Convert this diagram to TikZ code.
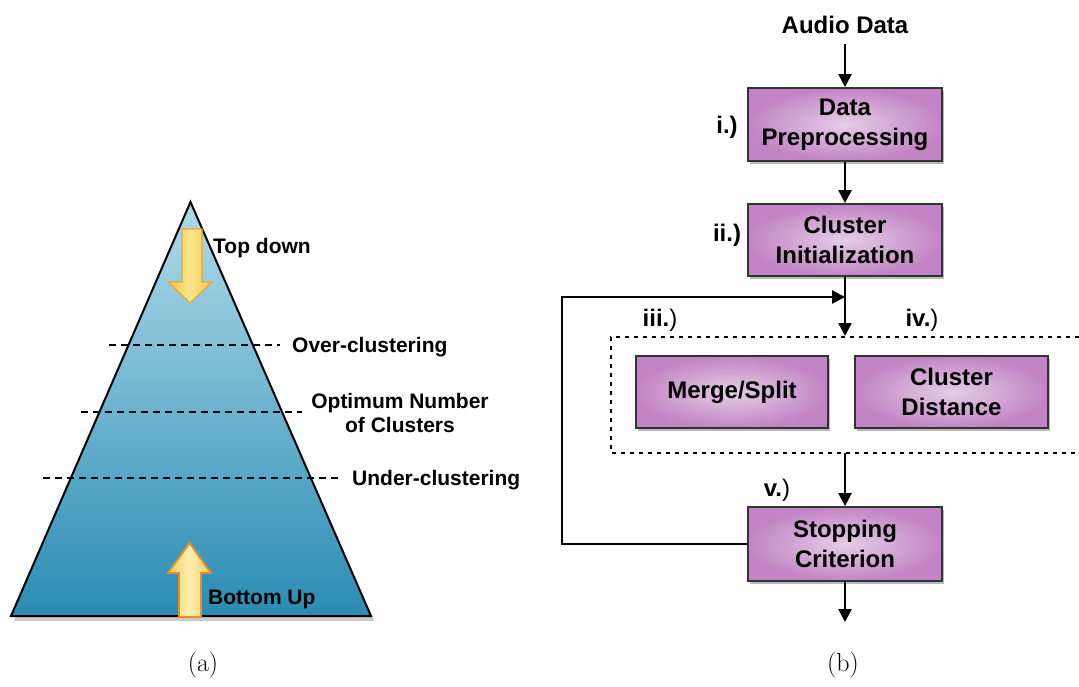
\documentclass[tikz,border=0pt]{standalone}
\usepackage{fontspec}
\setmainfont{Latin Modern Roman}
\newfontfamily\labfont{Liberation Sans}
\usetikzlibrary{arrows.meta,shadows}
\definecolor{triTop}{HTML}{B0DBEA}
\definecolor{triBot}{HTML}{2A8CB3}
\definecolor{boxEdge}{HTML}{C284C4}
\definecolor{boxMid}{HTML}{E4CEE6}
\definecolor{arrYel}{HTML}{F5C940}
\definecolor{arrLight}{HTML}{FBE58E}
\definecolor{arrLine1}{HTML}{E3A83E}
\definecolor{arrLine2}{HTML}{EE8A2A}
\tikzset{
  x=1pt, y=-1pt,
  proc/.style={draw=black!80, line width=1.8pt, inner color=boxMid, outer color=boxEdge,
    minimum width=194pt, minimum height=73pt, align=center,
    font=\labfont\bfseries\fontsize{24}{30}\selectfont,
    drop shadow={shadow xshift=2pt, shadow yshift=-3pt, opacity=0.55}},
  conn/.style={line width=2.4pt, -{Triangle[length=13pt,width=13pt]}},
  lab/.style={font=\labfont\bfseries\fontsize{21}{24}\selectfont, inner sep=0pt},
  num/.style={font=\labfont\bfseries\fontsize{24}{28}\selectfont, inner sep=0pt},
  lvl/.style={line width=2.6pt, dash pattern=on 7pt off 5pt}
}
\begin{document}
\begin{tikzpicture}
\useasboundingbox (0,0) rectangle (1079,686);
% ---------- (a) pyramid ----------
\fill[black!60, opacity=0.35] (193,206) -- (374,621) -- (14,621) -- cycle;
\path[top color=triTop, bottom color=triBot, draw=black, line width=2pt]
  (190.5,202) -- (371,616) -- (11,616) -- cycle;
% levels
\draw[lvl] (109,345) -- (280,345);
\draw[lvl] (81,412) -- (302,412);
\draw[lvl] (43,478) -- (340,478);
% top-down arrow
\path[left color=arrYel, right color=arrYel, middle color=arrLight, draw=arrLine1, line width=1.4pt]
  (182,229) -- (202,229) -- (202,282) -- (212,282) -- (190,303) -- (168,282) -- (182,282) -- cycle;
% bottom-up arrow
\path[left color=arrYel!85, right color=arrYel!85, middle color=arrLight!70!white, draw=arrLine2, line width=1.8pt]
  (179,617) -- (201,617) -- (201,573) -- (211,573) -- (189.5,543) -- (168,573) -- (179,573) -- cycle;
% labels
\node[lab, anchor=west] (td) at (213,248) {Top down};
\node[lab, anchor=west] (oc) at (292,347) {Over-clustering};
\node[lab, align=center] (opt) at (400,413) {Optimum Number\\of Clusters};
\node[lab, anchor=west] (uc) at (352,480) {Under-clustering};
\node[lab, anchor=west] (bu) at (208,599) {Bottom Up};
\node[font=\fontsize{26}{30}\selectfont, inner sep=0pt] (capa) at (203,665) {(a)};
% ---------- (b) flow chart ----------
\node[lab, font=\labfont\bfseries\fontsize{24}{28}\selectfont, inner sep=4pt] (audio) at (845,25) {Audio Data};
\node[proc] (pre) at (845,124.5) {Data\\Preprocessing};
\node[proc, minimum height=72pt] (init) at (845,240) {Cluster\\Initialization};
\node[proc, minimum width=192pt, minimum height=72pt] (merge) at (732,392) {Merge/Split};
\node[proc, minimum width=193pt, minimum height=72pt] (dist) at (951.5,392) {Cluster\\Distance};
\node[proc, minimum height=74pt] (stop) at (845,544) {Stopping\\Criterion};
% dotted container
\draw[line width=2.4pt, dash pattern=on 4pt off 5pt] (1079,337) -- (611,337) -- (611,453) -- (1079,453);
\coordinate (join) at (845,297);
\coordinate (dtop) at (845,336);
\coordinate (dbot) at (845,453);
\coordinate (out) at (845,622);
% connectors
\draw[conn, shorten <=6pt] (audio.south) -- (pre.north);
\draw[conn] (pre.south) -- (init.north);
\draw[conn] (init.south) -- (dtop);
\draw[conn] (stop.west) -- ++(-185,0) |- (join);
\draw[conn] (dbot) -- (stop.north);
\draw[conn] (stop.south) -- (out);
% step labels
\node[num] (li) at (727,127) {i.)};
\node[num] (lii) at (727,235) {ii.)};
\node[num] (liii) at (660,320) {iii.\textmd{)}};
\node[num] (liv) at (922,320) {iv.\textmd{)}};
\node[num] (lv) at (777,490) {v.\textmd{)}};
\node[font=\fontsize{26}{30}\selectfont, inner sep=0pt] (capb) at (843,665) {(b)};
\end{tikzpicture}
\end{document}
